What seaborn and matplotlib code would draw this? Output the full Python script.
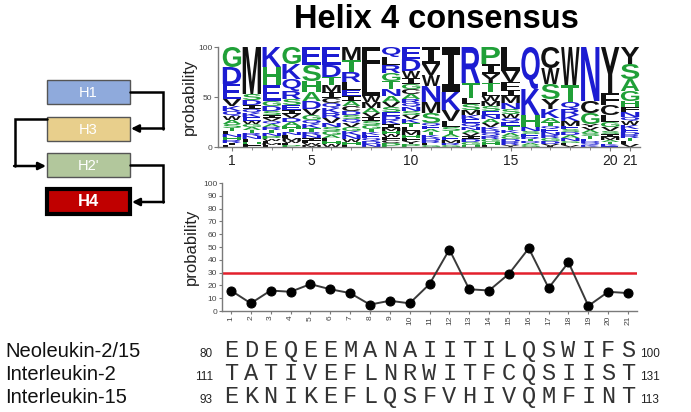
import numpy as np
import pandas as pd
import seaborn as sns
import matplotlib
matplotlib.use("Agg")
import matplotlib.pyplot as plt
from matplotlib.textpath import TextPath
from matplotlib.patches import PathPatch, Rectangle
from matplotlib.font_manager import FontProperties
from matplotlib.transforms import Affine2D, blended_transform_factory

# ---- data -------------------------------------------------------------
positions = list(range(1, 22))
consensus_prob = [16, 6, 16, 15, 21, 17, 14, 5, 8, 6, 21, 48, 17, 16, 29, 49, 18, 38, 4, 15, 14]
threshold = 30

# sequence logo: letters per position (top to bottom) and their probabilities
logo_letters = [
    "GDEVKQWASTLNHRIF", "MSDIQKEWGATRNLHF", "KHEGDSIVQARTNPWLMF",
    "GKQRSEIVDAHTNLMWFP", "ESHADVGQKTRNILWM", "EDTMICQKRVNSGALHW",
    "MTRLEIACDSQVGKNWHF", "FLWMAVISGTKEQDN", "QLRGTNAVSEDKIMHWFCP",
    "EDWIGCARQNSVKTLMHFYP", "IVWNMSQEATKDRLG", "IKVLSTAEMRG",
    "RTLSMKEQNAVIDGH", "PIYTLWMSENAVKDQRGHF", "LVFIMNSWQETKAGDRY",
    "QKHNSERTDAG", "CWSYKATQENRGDVI", "WTQRKMESDANGLV",
    "NCGYVASTEDQK", "YFCLGVSIMATKE", "YSAGHFNQWKEDRTLV",
]
logo_heights = [
    [20, 17, 15, 7, 5, 5, 4, 4, 4, 3, 3, 3, 3, 3, 2, 2],
    [47, 6, 5, 4, 4, 4, 4, 3, 3, 3, 3, 3, 3, 3, 2, 3],
    [20, 18, 16, 5, 5, 4, 3, 3, 3, 3, 3, 3, 3, 3, 2, 2, 2, 2],
    [17, 15, 12, 8, 6, 5, 4, 4, 4, 4, 3, 3, 3, 3, 3, 2, 2, 2],
    [18, 16, 11, 9, 8, 6, 5, 4, 4, 4, 3, 3, 3, 2, 2, 2],
    [18, 12, 8, 7, 6, 5, 5, 5, 5, 5, 4, 4, 4, 3, 3, 3, 3],
    [13, 12, 10, 8, 6, 5, 5, 5, 4, 4, 4, 4, 4, 4, 4, 3, 3, 2],
    [27, 22, 6, 6, 5, 4, 4, 4, 4, 3, 3, 3, 3, 3, 3],
    [10, 8, 8, 8, 8, 7, 6, 5, 5, 4, 4, 4, 4, 3, 3, 3, 3, 3, 4],
    [12, 12, 7, 6, 5, 5, 5, 4, 4, 4, 4, 4, 4, 4, 4, 4, 3, 3, 3, 3],
    [17, 11, 11, 16, 11, 10, 3, 3, 3, 3, 3, 3, 2, 2, 2],
    [45, 18, 11, 6, 4, 3, 3, 3, 3, 2, 2],
    [36, 15, 6, 6, 5, 4, 4, 4, 3, 3, 3, 3, 3, 3, 2],
    [17, 10, 9, 9, 4, 5, 5, 5, 4, 4, 4, 4, 3, 3, 3, 3, 3, 3, 2],
    [24, 11, 8, 6, 7, 6, 5, 4, 4, 4, 4, 3, 3, 3, 3, 3, 2],
    [42, 26, 12, 4, 3, 3, 2, 2, 2, 2, 2],
    [21, 16, 15, 10, 9, 4, 4, 3, 3, 3, 3, 3, 3, 2, 1],
    [38, 17, 7, 6, 6, 5, 3, 3, 3, 3, 3, 2, 2, 2],
    [54, 12, 11, 3, 3, 3, 3, 3, 2, 2, 2, 2],
    [46, 12, 10, 7, 5, 4, 3, 3, 3, 2, 2, 2, 1],
    [17, 15, 12, 10, 6, 5, 5, 4, 4, 4, 3, 3, 3, 3, 3, 3],
]
logo_ticks = [1, 5, 10, 15, 20, 21]

seq_names = ["Neoleukin-2/15", "Interleukin-2", "Interleukin-15"]
seq_strings = ["EDEQEEMANAIITILQSWIFS", "TATIVEFLNRWITFCQSIIST", "EKNIKEFLQSFVHIVQMFINT"]
seq_start = [80, 111, 93]
seq_end = [100, 131, 113]

helix_names = ["H1", "H3", "H2'", "H4"]
helix_colors = ["#8faadc", "#e8cf8c", "#b2c79c", "#c00000"]

# ---- style --------------------------------------------------------------
sns.set_style("ticks")
plt.rcParams["font.family"] = ["Liberation Sans", "DejaVu Sans"]

BLACK, BLUE, GREEN = "#111111", "#1c1cd2", "#20a038"
letter_color = {}
for c in "CFILMVWY":
    letter_color[c] = BLACK
for c in "DEKNQR":
    letter_color[c] = BLUE
for c in "AGHPST":
    letter_color[c] = GREEN

AXIS_GRAY = "#7a7a7a"
TICK_GRAY = "#444444"

fig = plt.figure(figsize=(6.91, 4.12), dpi=100)
W, H = 691.0, 412.0


def box(l, t, r, b):
    return [l / W, 1 - b / H, (r - l) / W, (b - t) / H]


# ---- helix topology diagram ------------------------------------------------
diag = fig.add_axes([0, 0, 1, 1])
diag.set_xlim(0, W)
diag.set_ylim(H, 0)
diag.axis("off")

box_tops = [80, 117, 153, 189]
box_h = 24
for name, col, top in zip(helix_names, helix_colors, box_tops):
    is_h4 = name == "H4"
    diag.add_patch(Rectangle((47, top), 83, box_h + (1 if is_h4 else 0),
                             facecolor=col,
                             edgecolor="black" if is_h4 else "#555555",
                             lw=3.0 if is_h4 else 1.0))
    diag.text(88.5, top + box_h / 2 + 0.5, name, ha="center", va="center",
              color="white", fontsize=12 if is_h4 else 10.5,
              fontweight="bold" if is_h4 else "normal")

arrow_kw = dict(arrowstyle="-|>", color="black", lw=1.8, mutation_scale=11,
                shrinkA=0, shrinkB=0)
# H1 -> H3 (right side)
diag.plot([130, 163, 163], [92, 92, 128.5], color="black", lw=1.8, solid_joinstyle="miter")
diag.annotate("", xy=(131, 128.5), xytext=(163.9, 128.5), arrowprops=arrow_kw)
# H3 -> H2' (left side)
diag.plot([47, 15, 15], [119, 119, 166], color="black", lw=1.8, solid_joinstyle="miter")
diag.annotate("", xy=(46, 166), xytext=(14.1, 166), arrowprops=arrow_kw)
# H2' -> H4 (right side)
diag.plot([130, 163, 163], [165, 165, 202], color="black", lw=1.8, solid_joinstyle="miter")
diag.annotate("", xy=(132, 202), xytext=(163.9, 202), arrowprops=arrow_kw)

# ---- title -------------------------------------------------------------------
fig.text(436 / W, 1 - 19 / H, "Helix 4 consensus", ha="center", va="center",
         fontsize=23.5, fontweight="bold", color="black")

# ---- sequence logo -----------------------------------------------------------
ax1 = fig.add_axes(box(218, 47, 640, 147))
ax1.set_xlim(0.3, 21.5)
ax1.set_ylim(0, 100)

glyph_font = FontProperties(family="Liberation Sans", weight="bold")
serif_i_font = FontProperties(family="Liberation Mono", weight="bold")
col_w = 0.92
for pos, letters, heights in zip(positions, logo_letters, logo_heights):
    y = 100.0
    for ch, h in zip(letters, heights):
        y -= h
        tp = TextPath((0, 0), ch, size=1,
                      prop=serif_i_font if ch == "I" else glyph_font)
        bb = tp.get_extents()
        tr = (Affine2D().translate(-bb.x0, -bb.y0)
              .scale(col_w / bb.width, h / bb.height)
              .translate(pos - col_w / 2, y))
        ax1.add_patch(PathPatch(tr.transform_path(tp), facecolor=letter_color[ch],
                                edgecolor="none", transform=ax1.transData))

ax1.set_xticks(logo_ticks)
ax1.set_xticks(positions, minor=True)
ax1.set_yticks([0, 50, 100])
ax1.tick_params(axis="x", labelsize=10, length=3, color=AXIS_GRAY, labelcolor="#222222", pad=2)
ax1.tick_params(axis="x", which="minor", length=2, color=AXIS_GRAY)
ax1.tick_params(axis="y", labelsize=6, length=3, color=AXIS_GRAY, labelcolor=TICK_GRAY, pad=1)
ax1.set_ylabel("probability", fontsize=12, labelpad=1, color="#222222")
sns.despine(ax=ax1)
for s in ("left", "bottom"):
    ax1.spines[s].set_color(AXIS_GRAY)
    ax1.spines[s].set_linewidth(1.0)

# ---- consensus probability line plot -----------------------------------------
ax2 = fig.add_axes(box(222, 183, 637, 311))
df = pd.DataFrame({"position": positions, "probability": consensus_prob})
sns.lineplot(data=df, x="position", y="probability", ax=ax2, color="#3a3a3a",
             linewidth=1.4, marker="o", markersize=6.5, markerfacecolor="black",
             markeredgecolor="black")
ax2.axhline(threshold, color="#e3202c", lw=1.8, zorder=1)
ax2.set_xlim(0.55, 21.45)
ax2.set_ylim(0, 100)
ax2.set_xticks(positions)
ax2.set_yticks(range(0, 101, 10))
ax2.tick_params(axis="x", labelsize=6, length=2.5, color=AXIS_GRAY,
                labelcolor=TICK_GRAY, labelrotation=90, pad=1)
ax2.tick_params(axis="y", labelsize=6, length=2.5, color=AXIS_GRAY,
                labelcolor=TICK_GRAY, pad=1)
ax2.set_xlabel("")
ax2.set_ylabel("probability", fontsize=12, labelpad=3, color="#222222")
sns.despine(ax=ax2)
for s in ("left", "bottom"):
    ax2.spines[s].set_color(AXIS_GRAY)
    ax2.spines[s].set_linewidth(1.0)

# ---- aligned sequences -------------------------------------------------------
row_base = [357, 380, 403]
mixed = blended_transform_factory(ax2.transData, fig.transFigure)
for name, seq, s0, s1, yb in zip(seq_names, seq_strings, seq_start, seq_end, row_base):
    yf = 1 - yb / H
    fig.text(5 / W, yf, name, ha="left", va="baseline", fontsize=14.5, color="#111111")
    fig.text(213 / W, yf, str(s0), ha="right", va="baseline", fontsize=8.5, color="#222222")
    fig.text(640 / W, yf, str(s1), ha="left", va="baseline", fontsize=8.5, color="#222222")
    for pos, ch in zip(positions, seq):
        ax2.text(pos, yf, ch, transform=mixed, ha="center", va="baseline",
                 fontsize=17, family="Liberation Mono", color="#333333",
                 clip_on=False)

fig.savefig("out.png", dpi=100)
